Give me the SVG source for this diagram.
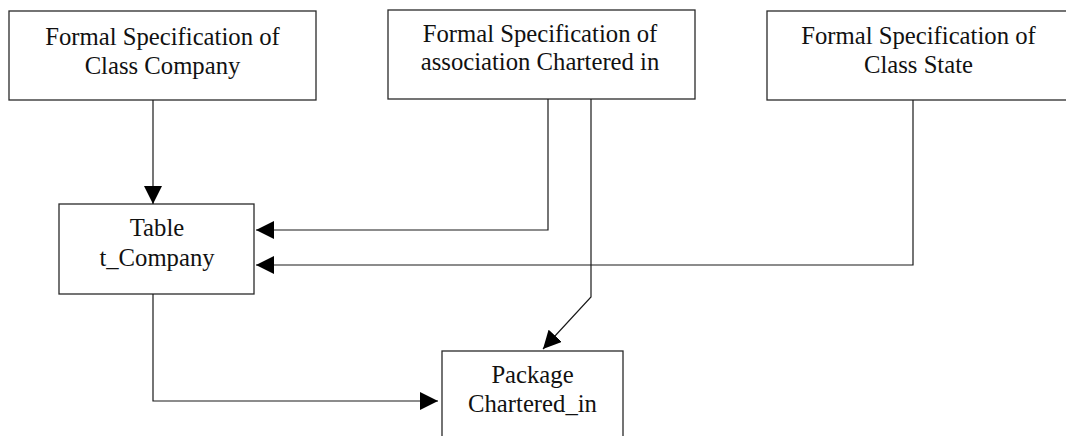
<svg xmlns="http://www.w3.org/2000/svg" width="1066" height="436" viewBox="0 0 1066 436">
  <style>
    .box { fill: #ffffff; stroke: #2a2a2a; stroke-width: 1.3; }
    .label { font-family: "Liberation Serif", "Times New Roman", serif; font-size: 24.7px; fill: #111111; text-anchor: middle; }
    .wire { fill: none; stroke: #1a1a1a; stroke-width: 1.2; }
  </style>
  <defs>
    <marker id="arrow" viewBox="0 0 18 18" refX="18" refY="9" markerWidth="18" markerHeight="18" markerUnits="userSpaceOnUse" orient="auto">
      <path d="M0,0 L18,9 L0,18 Z" fill="#000000"/>
    </marker>
  </defs>
  <rect width="1066" height="436" fill="#ffffff"/>

  <!-- specification nodes -->
  <g id="spec-company">
    <rect class="box" x="9" y="11" width="307" height="89"/>
    <text class="label" x="162.5" y="45">Formal Specification of</text>
    <text class="label" x="162.5" y="74">Class Company</text>
  </g>
  <g id="spec-chartered">
    <rect class="box" x="388" y="10" width="307" height="89"/>
    <text class="label" x="540" y="42">Formal Specification of</text>
    <text class="label" x="540" y="70">association Chartered in</text>
  </g>
  <g id="spec-state">
    <rect class="box" x="767" y="11" width="310" height="89"/>
    <text class="label" x="918.5" y="44">Formal Specification of</text>
    <text class="label" x="918.5" y="73">Class State</text>
  </g>

  <!-- generated artefacts -->
  <g id="table-company">
    <rect class="box" x="59" y="204" width="195" height="90"/>
    <text class="label" x="157" y="236">Table</text>
    <text class="label" x="157" y="266">t_Company</text>
  </g>
  <g id="package-chartered">
    <rect class="box" x="442" y="351" width="181" height="95"/>
    <text class="label" x="532.5" y="383">Package</text>
    <text class="label" x="532.5" y="412">Chartered_in</text>
  </g>

  <!-- connectors -->
  <g id="connectors">
    <polyline class="wire" points="153,100 153,204" marker-end="url(#arrow)"/>
    <polyline class="wire" points="548,99 548,230 256,230" marker-end="url(#arrow)"/>
    <polyline class="wire" points="913,100 913,265 256,265" marker-end="url(#arrow)"/>
    <polyline class="wire" points="591,99 591,297 543,349" marker-end="url(#arrow)"/>
    <polyline class="wire" points="153,294 153,401 438,401" marker-end="url(#arrow)"/>
  </g>
</svg>
